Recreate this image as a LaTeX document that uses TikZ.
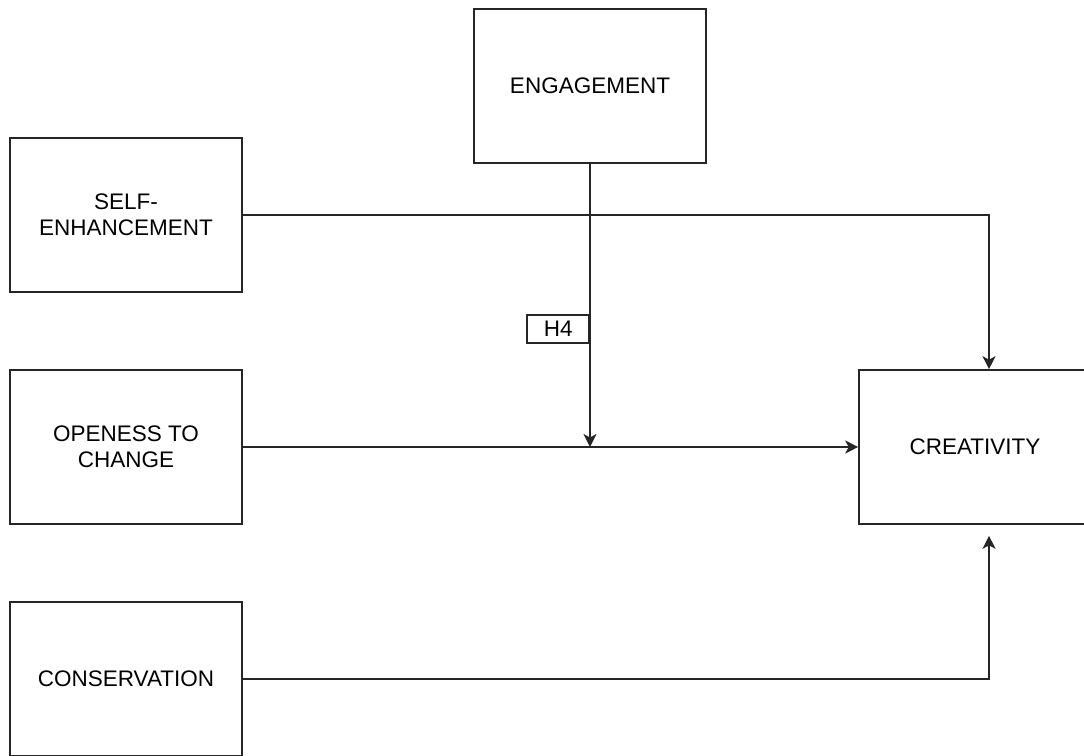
\documentclass[tikz,border=0pt]{standalone}
\usepackage{fontspec}
\setmainfont{Liberation Sans}
\usetikzlibrary{arrows.meta}
\begin{document}
\begin{tikzpicture}[x=1pt,y=-1pt,
  box/.style={draw=black!85, line width=1.6pt, minimum width=232pt, minimum height=154pt, align=center, font=\fontsize{22.5}{26}\selectfont, inner sep=0pt},
  lbl/.style={draw=black!85, line width=1.6pt, minimum width=62pt, minimum height=28pt, font=\fontsize{22.5}{26}\selectfont, inner sep=0pt, fill=white},
  conn/.style={draw=black!85, line width=1.6pt},
  arr/.style={conn, -{Stealth[length=13pt,width=13pt,inset=3.5pt]}}]
\useasboundingbox (0,0) rectangle (1084,755);
\node[box] (eng) at (590,86) {ENGAGEMENT};
\node[box] (self) at (126,215) {SELF-\\ENHANCEMENT};
\node[box] (open) at (126,447) {OPENESS TO\\CHANGE};
\node[box] (cons) at (126,679) {CONSERVATION};
\node[box] (creat) at (975,447) {CREATIVITY};
\coordinate (m) at (590,447);
\draw[arr] (self.east) -| ([xshift=14pt]creat.north);
\draw[arr] (open.east) -- (creat.west);
\draw[arr, shorten >=11pt] (cons.east) -| ([xshift=14pt]creat.south);
\draw[arr] (eng.south) -- (m);
\node[lbl, anchor=east] (h4) at (590,329) {H4};
\end{tikzpicture}
\end{document}
